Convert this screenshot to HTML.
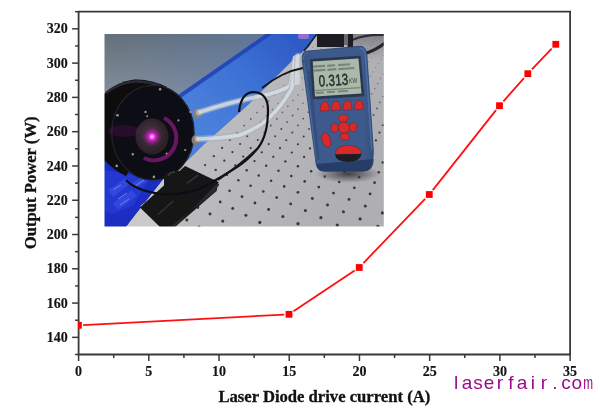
<!DOCTYPE html>
<html><head><meta charset="utf-8"><title>Output power vs laser diode drive current</title>
<style>
html,body{margin:0;padding:0;background:#fff;}
body{width:600px;height:414px;overflow:hidden;position:relative;}
svg{position:absolute;left:0;top:0;}
.tl{font-family:"Liberation Serif",serif;font-weight:bold;font-size:14px;fill:#141414;stroke:#141414;stroke-width:0.15px;}
.at{font-family:"Liberation Serif",serif;font-weight:bold;font-size:16px;fill:#111;stroke:#111;stroke-width:0.3px;}
.wm{font-family:"Liberation Sans",sans-serif;font-size:19px;fill:#9c0a8a;}
</style></head><body>
<svg width="600" height="414" viewBox="0 0 600 414">
<defs><clipPath id="pa"><rect x="78" y="11" width="492.5" height="344"/></clipPath>
<filter id="blur" x="0" y="0" width="1" height="1"><feGaussianBlur stdDeviation="0.55"/></filter><clipPath id="ph"><rect x="104.5" y="34" width="279.3" height="192.5"/></clipPath></defs>
<g clip-path="url(#ph)"><g filter="url(#blur)">
<defs>
<linearGradient id="gWall" gradientUnits="userSpaceOnUse" x1="0" y1="34" x2="0" y2="100">
<stop offset="0" stop-color="#64717c"/><stop offset="1" stop-color="#85919f"/></linearGradient>
<linearGradient id="gWallB" gradientUnits="userSpaceOnUse" x1="130" y1="0" x2="250" y2="0">
<stop offset="0" stop-color="#5a78b8" stop-opacity="0"/><stop offset="1" stop-color="#5a78b8" stop-opacity="0.4"/></linearGradient>
<linearGradient id="gTable" x1="0" y1="0" x2="1" y2="0.3">
<stop offset="0" stop-color="#cac9cc"/><stop offset="0.45" stop-color="#bebdc1"/><stop offset="1" stop-color="#afaeb3"/></linearGradient>
<linearGradient id="gFoam" gradientUnits="userSpaceOnUse" x1="290" y1="40" x2="205" y2="125">
<stop offset="0" stop-color="#2f5cc6"/><stop offset="0.45" stop-color="#3c70d4"/><stop offset="1" stop-color="#4a80dc"/></linearGradient>
<pattern id="holes" patternUnits="userSpaceOnUse" width="12" height="11" patternTransform="matrix(1.017 0.467 -0.845 0.955 237.45 172.25)">
<circle cx="6" cy="5.5" r="1.2" fill="#303030"/></pattern>
<radialGradient id="gGlow"><stop offset="0" stop-color="#fff4ff"/><stop offset="0.18" stop-color="#ff60ff"/><stop offset="0.4" stop-color="#d020c8" stop-opacity="0.85"/><stop offset="1" stop-color="#801070" stop-opacity="0"/></radialGradient>
<radialGradient id="gLens" cx="0.45" cy="0.45"><stop offset="0" stop-color="#4a3a44"/><stop offset="1" stop-color="#2a2228"/></radialGradient>
<linearGradient id="gMeter" x1="0" y1="0" x2="1" y2="0">
<stop offset="0" stop-color="#34507e"/><stop offset="0.15" stop-color="#3d5a8e"/><stop offset="0.85" stop-color="#3e5a8c"/><stop offset="1" stop-color="#33507e"/></linearGradient>
<radialGradient id="gShadow"><stop offset="0" stop-color="#2a2a30" stop-opacity="0.85"/><stop offset="0.6" stop-color="#404046" stop-opacity="0.4"/><stop offset="1" stop-color="#505056" stop-opacity="0"/></radialGradient>
<linearGradient id="gTR" x1="0" y1="0" x2="0" y2="1"><stop offset="0" stop-color="#5e5e66" stop-opacity="0.6"/><stop offset="1" stop-color="#5e5e66" stop-opacity="0"/></linearGradient>
</defs>
<!-- table -->
<rect x="104" y="34" width="281" height="193" fill="url(#gTable)"/>
<g fill="#383838"><circle cx="308.2" cy="35.7" r="0.47" opacity="0.35"/><circle cx="315.3" cy="36.8" r="0.48" opacity="0.35"/><circle cx="312.0" cy="39.8" r="0.49" opacity="0.35"/><circle cx="308.7" cy="42.8" r="0.50" opacity="0.35"/><circle cx="325.6" cy="35.0" r="0.47" opacity="0.35"/><circle cx="322.6" cy="37.9" r="0.49" opacity="0.35"/><circle cx="319.4" cy="41.0" r="0.50" opacity="0.35"/><circle cx="316.1" cy="44.1" r="0.51" opacity="0.35"/><circle cx="312.7" cy="47.4" r="0.53" opacity="0.35"/><circle cx="309.2" cy="50.7" r="0.54" opacity="0.35"/><circle cx="175.5" cy="179.1" r="1.22" opacity="1.00"/><circle cx="164.8" cy="189.3" r="1.28" opacity="1.00"/><circle cx="153.4" cy="200.2" r="1.34" opacity="1.00"/><circle cx="141.2" cy="211.9" r="1.42" opacity="1.00"/><circle cx="128.1" cy="224.5" r="1.50" opacity="1.00"/><circle cx="333.0" cy="36.1" r="0.48" opacity="0.35"/><circle cx="330.0" cy="39.1" r="0.50" opacity="0.35"/><circle cx="326.9" cy="42.2" r="0.51" opacity="0.35"/><circle cx="323.8" cy="45.4" r="0.52" opacity="0.35"/><circle cx="320.5" cy="48.7" r="0.54" opacity="0.35"/><circle cx="317.1" cy="52.2" r="0.55" opacity="0.35"/><circle cx="313.5" cy="55.7" r="0.57" opacity="0.35"/><circle cx="309.8" cy="59.4" r="0.59" opacity="0.35"/><circle cx="306.0" cy="63.3" r="0.61" opacity="0.35"/><circle cx="302.0" cy="67.3" r="0.62" opacity="0.35"/><circle cx="297.9" cy="71.5" r="0.64" opacity="0.35"/><circle cx="293.5" cy="75.9" r="0.66" opacity="0.35"/><circle cx="289.0" cy="80.4" r="0.69" opacity="0.37"/><circle cx="284.3" cy="85.2" r="0.71" opacity="0.41"/><circle cx="279.3" cy="90.2" r="0.74" opacity="0.46"/><circle cx="274.2" cy="95.4" r="0.76" opacity="0.50"/><circle cx="268.7" cy="100.9" r="0.79" opacity="0.55"/><circle cx="263.1" cy="106.6" r="0.82" opacity="0.60"/><circle cx="257.1" cy="112.6" r="0.85" opacity="0.66"/><circle cx="250.8" cy="119.0" r="0.88" opacity="0.72"/><circle cx="244.2" cy="125.6" r="0.92" opacity="0.78"/><circle cx="237.2" cy="132.7" r="0.96" opacity="0.85"/><circle cx="229.9" cy="140.1" r="1.00" opacity="0.92"/><circle cx="222.1" cy="147.9" r="1.04" opacity="1.00"/><circle cx="213.8" cy="156.2" r="1.09" opacity="1.00"/><circle cx="205.1" cy="165.1" r="1.14" opacity="1.00"/><circle cx="195.8" cy="174.4" r="1.20" opacity="1.00"/><circle cx="185.9" cy="184.4" r="1.26" opacity="1.00"/><circle cx="175.3" cy="195.1" r="1.32" opacity="1.00"/><circle cx="164.0" cy="206.5" r="1.39" opacity="1.00"/><circle cx="151.9" cy="218.7" r="1.47" opacity="1.00"/><circle cx="343.3" cy="34.4" r="0.48" opacity="0.35"/><circle cx="340.5" cy="37.3" r="0.49" opacity="0.35"/><circle cx="337.6" cy="40.3" r="0.51" opacity="0.35"/><circle cx="334.7" cy="43.5" r="0.52" opacity="0.35"/><circle cx="331.6" cy="46.7" r="0.53" opacity="0.35"/><circle cx="328.4" cy="50.1" r="0.55" opacity="0.35"/><circle cx="325.1" cy="53.6" r="0.56" opacity="0.35"/><circle cx="321.7" cy="57.3" r="0.58" opacity="0.35"/><circle cx="318.1" cy="61.1" r="0.60" opacity="0.35"/><circle cx="314.4" cy="65.0" r="0.62" opacity="0.35"/><circle cx="310.5" cy="69.1" r="0.64" opacity="0.35"/><circle cx="306.5" cy="73.4" r="0.66" opacity="0.35"/><circle cx="302.3" cy="77.9" r="0.68" opacity="0.36"/><circle cx="297.9" cy="82.6" r="0.70" opacity="0.40"/><circle cx="293.3" cy="87.5" r="0.73" opacity="0.44"/><circle cx="288.5" cy="92.6" r="0.75" opacity="0.49"/><circle cx="283.4" cy="97.9" r="0.78" opacity="0.54"/><circle cx="278.1" cy="103.6" r="0.81" opacity="0.59"/><circle cx="272.6" cy="109.5" r="0.84" opacity="0.64"/><circle cx="266.7" cy="115.7" r="0.87" opacity="0.70"/><circle cx="260.6" cy="122.2" r="0.91" opacity="0.76"/><circle cx="254.1" cy="129.1" r="0.95" opacity="0.83"/><circle cx="247.3" cy="136.3" r="0.99" opacity="0.90"/><circle cx="240.1" cy="144.0" r="1.03" opacity="0.97"/><circle cx="232.4" cy="152.1" r="1.08" opacity="1.00"/><circle cx="224.3" cy="160.7" r="1.13" opacity="1.00"/><circle cx="215.7" cy="169.9" r="1.18" opacity="1.00"/><circle cx="206.5" cy="179.6" r="1.24" opacity="1.00"/><circle cx="196.8" cy="190.0" r="1.30" opacity="1.00"/><circle cx="186.3" cy="201.1" r="1.37" opacity="1.00"/><circle cx="175.1" cy="213.0" r="1.45" opacity="1.00"/><circle cx="163.1" cy="225.8" r="1.53" opacity="1.00"/><circle cx="350.9" cy="35.5" r="0.49" opacity="0.35"/><circle cx="348.2" cy="38.5" r="0.50" opacity="0.35"/><circle cx="345.5" cy="41.6" r="0.51" opacity="0.35"/><circle cx="342.6" cy="44.8" r="0.53" opacity="0.35"/><circle cx="339.7" cy="48.1" r="0.54" opacity="0.35"/><circle cx="336.6" cy="51.5" r="0.56" opacity="0.35"/><circle cx="333.4" cy="55.1" r="0.58" opacity="0.35"/><circle cx="330.1" cy="58.9" r="0.59" opacity="0.35"/><circle cx="326.6" cy="62.7" r="0.61" opacity="0.35"/><circle cx="323.0" cy="66.8" r="0.63" opacity="0.35"/><circle cx="319.3" cy="71.0" r="0.65" opacity="0.35"/><circle cx="315.4" cy="75.4" r="0.67" opacity="0.35"/><circle cx="311.3" cy="80.0" r="0.70" opacity="0.39"/><circle cx="307.0" cy="84.8" r="0.72" opacity="0.43"/><circle cx="302.6" cy="89.8" r="0.75" opacity="0.47"/><circle cx="297.9" cy="95.1" r="0.77" opacity="0.52"/><circle cx="293.0" cy="100.6" r="0.80" opacity="0.57"/><circle cx="287.8" cy="106.3" r="0.83" opacity="0.63"/><circle cx="282.4" cy="112.4" r="0.86" opacity="0.68"/><circle cx="276.8" cy="118.8" r="0.90" opacity="0.74"/><circle cx="270.8" cy="125.5" r="0.94" opacity="0.81"/><circle cx="264.4" cy="132.6" r="0.97" opacity="0.88"/><circle cx="257.8" cy="140.1" r="1.02" opacity="0.95"/><circle cx="250.7" cy="148.1" r="1.06" opacity="1.00"/><circle cx="243.2" cy="156.5" r="1.11" opacity="1.00"/><circle cx="235.3" cy="165.4" r="1.16" opacity="1.00"/><circle cx="226.8" cy="174.9" r="1.22" opacity="1.00"/><circle cx="217.8" cy="185.1" r="1.28" opacity="1.00"/><circle cx="208.2" cy="195.9" r="1.35" opacity="1.00"/><circle cx="197.9" cy="207.5" r="1.42" opacity="1.00"/><circle cx="186.8" cy="219.9" r="1.50" opacity="1.00"/><circle cx="358.7" cy="36.6" r="0.50" opacity="0.35"/><circle cx="356.1" cy="39.7" r="0.51" opacity="0.35"/><circle cx="353.5" cy="42.8" r="0.52" opacity="0.35"/><circle cx="350.8" cy="46.1" r="0.54" opacity="0.35"/><circle cx="347.9" cy="49.5" r="0.56" opacity="0.35"/><circle cx="345.0" cy="53.0" r="0.57" opacity="0.35"/><circle cx="341.9" cy="56.7" r="0.59" opacity="0.35"/><circle cx="338.7" cy="60.5" r="0.61" opacity="0.35"/><circle cx="335.4" cy="64.5" r="0.63" opacity="0.35"/><circle cx="331.9" cy="68.6" r="0.65" opacity="0.35"/><circle cx="328.3" cy="72.9" r="0.67" opacity="0.35"/><circle cx="324.5" cy="77.4" r="0.69" opacity="0.38"/><circle cx="320.6" cy="82.1" r="0.71" opacity="0.42"/><circle cx="316.4" cy="87.0" r="0.74" opacity="0.46"/><circle cx="312.1" cy="92.2" r="0.76" opacity="0.51"/><circle cx="307.6" cy="97.6" r="0.79" opacity="0.56"/><circle cx="302.9" cy="103.3" r="0.82" opacity="0.61"/><circle cx="297.9" cy="109.2" r="0.85" opacity="0.66"/><circle cx="292.6" cy="115.5" r="0.89" opacity="0.72"/><circle cx="287.1" cy="122.1" r="0.92" opacity="0.79"/><circle cx="281.3" cy="129.0" r="0.96" opacity="0.85"/><circle cx="275.2" cy="136.3" r="1.00" opacity="0.93"/><circle cx="268.7" cy="144.1" r="1.05" opacity="1.00"/><circle cx="261.8" cy="152.3" r="1.10" opacity="1.00"/><circle cx="254.5" cy="161.1" r="1.15" opacity="1.00"/><circle cx="246.7" cy="170.3" r="1.20" opacity="1.00"/><circle cx="238.4" cy="180.2" r="1.26" opacity="1.00"/><circle cx="229.6" cy="190.8" r="1.33" opacity="1.00"/><circle cx="220.2" cy="202.0" r="1.40" opacity="1.00"/><circle cx="210.0" cy="214.1" r="1.48" opacity="1.00"/><circle cx="199.1" cy="227.1" r="1.56" opacity="1.00"/><circle cx="369.0" cy="34.8" r="0.49" opacity="0.35"/><circle cx="366.7" cy="37.8" r="0.51" opacity="0.35"/><circle cx="364.3" cy="40.9" r="0.52" opacity="0.35"/><circle cx="361.7" cy="44.1" r="0.53" opacity="0.35"/><circle cx="359.1" cy="47.4" r="0.55" opacity="0.35"/><circle cx="356.4" cy="50.9" r="0.57" opacity="0.35"/><circle cx="353.6" cy="54.5" r="0.58" opacity="0.35"/><circle cx="350.6" cy="58.3" r="0.60" opacity="0.35"/><circle cx="347.6" cy="62.2" r="0.62" opacity="0.35"/><circle cx="344.4" cy="66.2" r="0.64" opacity="0.35"/><circle cx="341.0" cy="70.5" r="0.66" opacity="0.35"/><circle cx="337.6" cy="74.9" r="0.68" opacity="0.36"/><circle cx="333.9" cy="79.5" r="0.71" opacity="0.40"/><circle cx="330.2" cy="84.3" r="0.73" opacity="0.45"/><circle cx="326.2" cy="89.4" r="0.76" opacity="0.49"/><circle cx="322.0" cy="94.7" r="0.78" opacity="0.54"/><circle cx="317.7" cy="100.2" r="0.81" opacity="0.59"/><circle cx="313.1" cy="106.1" r="0.84" opacity="0.65"/><circle cx="308.3" cy="112.2" r="0.88" opacity="0.71"/><circle cx="303.2" cy="118.6" r="0.91" opacity="0.77"/><circle cx="297.9" cy="125.4" r="0.95" opacity="0.83"/><circle cx="292.3" cy="132.6" r="0.99" opacity="0.90"/><circle cx="286.3" cy="140.2" r="1.03" opacity="0.98"/><circle cx="280.0" cy="148.2" r="1.08" opacity="1.00"/><circle cx="273.3" cy="156.8" r="1.13" opacity="1.00"/><circle cx="266.2" cy="165.8" r="1.19" opacity="1.00"/><circle cx="258.7" cy="175.4" r="1.24" opacity="1.00"/><circle cx="250.6" cy="185.7" r="1.31" opacity="1.00"/><circle cx="242.0" cy="196.7" r="1.38" opacity="1.00"/><circle cx="232.7" cy="208.5" r="1.45" opacity="1.00"/><circle cx="222.8" cy="221.1" r="1.54" opacity="1.00"/><circle cx="377.1" cy="35.9" r="0.50" opacity="0.35"/><circle cx="374.9" cy="39.0" r="0.52" opacity="0.35"/><circle cx="372.6" cy="42.2" r="0.53" opacity="0.35"/><circle cx="370.2" cy="45.4" r="0.55" opacity="0.35"/><circle cx="367.7" cy="48.8" r="0.56" opacity="0.35"/><circle cx="365.1" cy="52.4" r="0.58" opacity="0.35"/><circle cx="362.4" cy="56.1" r="0.60" opacity="0.35"/><circle cx="359.6" cy="59.9" r="0.61" opacity="0.35"/><circle cx="356.7" cy="63.9" r="0.63" opacity="0.35"/><circle cx="353.6" cy="68.1" r="0.65" opacity="0.35"/><circle cx="350.5" cy="72.4" r="0.68" opacity="0.35"/><circle cx="347.1" cy="76.9" r="0.70" opacity="0.39"/><circle cx="343.7" cy="81.7" r="0.72" opacity="0.43"/><circle cx="340.0" cy="86.6" r="0.75" opacity="0.48"/><circle cx="336.3" cy="91.8" r="0.77" opacity="0.53"/><circle cx="332.3" cy="97.3" r="0.80" opacity="0.58"/><circle cx="328.1" cy="103.0" r="0.83" opacity="0.63"/><circle cx="323.7" cy="109.0" r="0.87" opacity="0.69"/><circle cx="319.1" cy="115.3" r="0.90" opacity="0.75"/><circle cx="314.2" cy="121.9" r="0.94" opacity="0.81"/><circle cx="309.1" cy="129.0" r="0.98" opacity="0.88"/><circle cx="303.7" cy="136.4" r="1.02" opacity="0.96"/><circle cx="297.9" cy="144.2" r="1.07" opacity="1.00"/><circle cx="291.8" cy="152.5" r="1.12" opacity="1.00"/><circle cx="285.4" cy="161.4" r="1.17" opacity="1.00"/><circle cx="278.5" cy="170.8" r="1.23" opacity="1.00"/><circle cx="271.1" cy="180.8" r="1.29" opacity="1.00"/><circle cx="263.3" cy="191.5" r="1.36" opacity="1.00"/><circle cx="254.9" cy="203.0" r="1.43" opacity="1.00"/><circle cx="245.9" cy="215.3" r="1.51" opacity="1.00"/><circle cx="236.2" cy="228.5" r="1.60" opacity="1.00"/><circle cx="385.4" cy="37.1" r="0.51" opacity="0.35"/><circle cx="383.3" cy="40.2" r="0.53" opacity="0.35"/><circle cx="381.1" cy="43.5" r="0.54" opacity="0.35"/><circle cx="378.9" cy="46.8" r="0.56" opacity="0.35"/><circle cx="376.5" cy="50.3" r="0.57" opacity="0.35"/><circle cx="374.0" cy="53.9" r="0.59" opacity="0.35"/><circle cx="371.5" cy="57.7" r="0.61" opacity="0.35"/><circle cx="368.8" cy="61.6" r="0.63" opacity="0.35"/><circle cx="366.1" cy="65.7" r="0.65" opacity="0.35"/><circle cx="363.2" cy="69.9" r="0.67" opacity="0.35"/><circle cx="360.2" cy="74.4" r="0.69" opacity="0.38"/><circle cx="357.0" cy="79.0" r="0.71" opacity="0.42"/><circle cx="353.7" cy="83.9" r="0.74" opacity="0.46"/><circle cx="350.3" cy="89.0" r="0.77" opacity="0.51"/><circle cx="346.7" cy="94.3" r="0.79" opacity="0.56"/><circle cx="342.9" cy="99.9" r="0.82" opacity="0.61"/><circle cx="338.9" cy="105.8" r="0.86" opacity="0.67"/><circle cx="334.7" cy="112.0" r="0.89" opacity="0.73"/><circle cx="330.3" cy="118.5" r="0.93" opacity="0.79"/><circle cx="325.6" cy="125.4" r="0.97" opacity="0.86"/><circle cx="320.7" cy="132.6" r="1.01" opacity="0.93"/><circle cx="315.5" cy="140.3" r="1.05" opacity="1.00"/><circle cx="310.0" cy="148.4" r="1.10" opacity="1.00"/><circle cx="304.1" cy="157.0" r="1.15" opacity="1.00"/><circle cx="297.9" cy="166.2" r="1.21" opacity="1.00"/><circle cx="291.3" cy="176.0" r="1.27" opacity="1.00"/><circle cx="284.2" cy="186.4" r="1.34" opacity="1.00"/><circle cx="276.7" cy="197.6" r="1.41" opacity="1.00"/><circle cx="268.6" cy="209.5" r="1.49" opacity="1.00"/><circle cx="259.8" cy="222.4" r="1.57" opacity="1.00"/><circle cx="385.5" cy="51.8" r="0.58" opacity="0.35"/><circle cx="383.2" cy="55.5" r="0.60" opacity="0.35"/><circle cx="380.8" cy="59.3" r="0.62" opacity="0.35"/><circle cx="378.3" cy="63.3" r="0.64" opacity="0.35"/><circle cx="375.7" cy="67.5" r="0.66" opacity="0.35"/><circle cx="373.0" cy="71.9" r="0.68" opacity="0.37"/><circle cx="370.2" cy="76.4" r="0.71" opacity="0.41"/><circle cx="367.2" cy="81.2" r="0.73" opacity="0.45"/><circle cx="364.1" cy="86.2" r="0.76" opacity="0.50"/><circle cx="360.8" cy="91.4" r="0.79" opacity="0.55"/><circle cx="357.4" cy="96.9" r="0.82" opacity="0.60"/><circle cx="353.8" cy="102.7" r="0.85" opacity="0.65"/><circle cx="350.0" cy="108.7" r="0.88" opacity="0.71"/><circle cx="346.1" cy="115.1" r="0.92" opacity="0.77"/><circle cx="341.9" cy="121.8" r="0.95" opacity="0.84"/><circle cx="337.5" cy="128.9" r="0.99" opacity="0.91"/><circle cx="332.8" cy="136.4" r="1.04" opacity="0.99"/><circle cx="327.8" cy="144.3" r="1.09" opacity="1.00"/><circle cx="322.6" cy="152.8" r="1.14" opacity="1.00"/><circle cx="317.0" cy="161.7" r="1.19" opacity="1.00"/><circle cx="311.1" cy="171.2" r="1.25" opacity="1.00"/><circle cx="304.7" cy="181.4" r="1.31" opacity="1.00"/><circle cx="297.9" cy="192.3" r="1.38" opacity="1.00"/><circle cx="290.7" cy="203.9" r="1.46" opacity="1.00"/><circle cx="282.9" cy="216.5" r="1.55" opacity="1.00"/><circle cx="385.7" cy="69.4" r="0.68" opacity="0.36"/><circle cx="383.1" cy="73.9" r="0.70" opacity="0.40"/><circle cx="380.5" cy="78.5" r="0.72" opacity="0.44"/><circle cx="377.7" cy="83.4" r="0.75" opacity="0.48"/><circle cx="374.8" cy="88.6" r="0.78" opacity="0.53"/><circle cx="371.7" cy="93.9" r="0.81" opacity="0.58"/><circle cx="368.5" cy="99.6" r="0.84" opacity="0.63"/><circle cx="365.2" cy="105.5" r="0.87" opacity="0.69"/><circle cx="361.6" cy="111.7" r="0.90" opacity="0.75"/><circle cx="357.9" cy="118.3" r="0.94" opacity="0.82"/><circle cx="353.9" cy="125.3" r="0.98" opacity="0.89"/><circle cx="349.8" cy="132.6" r="1.02" opacity="0.96"/><circle cx="345.4" cy="140.3" r="1.07" opacity="1.00"/><circle cx="340.7" cy="148.6" r="1.12" opacity="1.00"/><circle cx="335.7" cy="157.3" r="1.17" opacity="1.00"/><circle cx="330.4" cy="166.6" r="1.23" opacity="1.00"/><circle cx="324.8" cy="176.5" r="1.29" opacity="1.00"/><circle cx="318.8" cy="187.1" r="1.36" opacity="1.00"/><circle cx="312.3" cy="198.5" r="1.44" opacity="1.00"/><circle cx="305.4" cy="210.6" r="1.52" opacity="1.00"/><circle cx="298.0" cy="223.7" r="1.61" opacity="1.00"/><circle cx="385.9" cy="91.0" r="0.80" opacity="0.57"/><circle cx="383.0" cy="96.5" r="0.83" opacity="0.62"/><circle cx="380.0" cy="102.3" r="0.86" opacity="0.67"/><circle cx="376.9" cy="108.5" r="0.89" opacity="0.73"/><circle cx="373.6" cy="114.9" r="0.93" opacity="0.80"/><circle cx="370.1" cy="121.7" r="0.97" opacity="0.87"/><circle cx="366.5" cy="128.8" r="1.01" opacity="0.94"/><circle cx="362.6" cy="136.4" r="1.06" opacity="1.00"/><circle cx="358.5" cy="144.5" r="1.10" opacity="1.00"/><circle cx="354.1" cy="153.0" r="1.16" opacity="1.00"/><circle cx="349.4" cy="162.1" r="1.21" opacity="1.00"/><circle cx="344.5" cy="171.7" r="1.27" opacity="1.00"/><circle cx="339.2" cy="182.0" r="1.34" opacity="1.00"/><circle cx="333.5" cy="193.1" r="1.41" opacity="1.00"/><circle cx="327.5" cy="204.9" r="1.49" opacity="1.00"/><circle cx="320.9" cy="217.7" r="1.58" opacity="1.00"/><circle cx="382.9" cy="125.2" r="1.00" opacity="0.92"/><circle cx="379.5" cy="132.6" r="1.04" opacity="0.99"/><circle cx="375.9" cy="140.4" r="1.09" opacity="1.00"/><circle cx="372.1" cy="148.7" r="1.14" opacity="1.00"/><circle cx="368.1" cy="157.6" r="1.20" opacity="1.00"/><circle cx="363.8" cy="167.0" r="1.26" opacity="1.00"/><circle cx="359.2" cy="177.1" r="1.32" opacity="1.00"/><circle cx="354.3" cy="187.8" r="1.39" opacity="1.00"/><circle cx="349.0" cy="199.4" r="1.47" opacity="1.00"/><circle cx="343.4" cy="211.8" r="1.55" opacity="1.00"/><circle cx="337.3" cy="225.1" r="1.65" opacity="1.00"/><circle cx="382.7" cy="162.4" r="1.24" opacity="1.00"/><circle cx="378.8" cy="172.2" r="1.30" opacity="1.00"/><circle cx="374.6" cy="182.7" r="1.37" opacity="1.00"/><circle cx="370.1" cy="193.9" r="1.44" opacity="1.00"/><circle cx="365.3" cy="206.0" r="1.53" opacity="1.00"/><circle cx="360.1" cy="218.9" r="1.62" opacity="1.00"/><circle cx="382.4" cy="212.9" r="1.59" opacity="1.00"/><circle cx="377.8" cy="226.5" r="1.69" opacity="1.00"/></g>
<!-- wall -->
<polygon points="104,34 265.5,34 104,146.6" fill="url(#gWall)"/>
<polygon points="104,34 265.5,34 104,146.6" fill="url(#gWallB)"/>
<!-- foam -->
<polygon points="104,146.6 265.5,34 316,34 309,47 296,57 247,106 204,144.5 194.4,154 116,227 104,227" fill="url(#gFoam)"/>
<polygon points="104,146.6 265.5,34 272.5,34 104,151.5" fill="#2142b4" opacity="0.85"/>
<path d="M317,34 Q311,42 304,51" fill="none" stroke="#202026" stroke-width="1.6"/>
<!-- purple piece -->
<rect x="298" y="33" width="11" height="6" rx="2" fill="#9070d0"/>
<polygon points="104,150 172,150 165,177 126,227 104,227" fill="#1c2ec2"/>
<polygon points="104,170 150,178 133,206 112,214 104,210" fill="#2a40de" opacity="0.55"/>
<g fill="#3448e0" opacity="0.9"><polygon points="108,190 126,178 131,183 113,197"/><polygon points="113,203 132,190 137,196 118,210"/><polygon points="131,184 150,172 154,176 136,189"/></g>
<g stroke="#aab4f0" stroke-width="0.8" opacity="0.7"><path d="M118,199 L127,193"/><path d="M120,205 L129,199"/><path d="M135,186 L144,180"/><path d="M113,190 L121,185"/></g>
<polygon points="126,227 165,177 171,176 167,184.5 140.3,206 160,227" fill="#cacaca"/>
<!-- base -->
<polygon points="140,207.5 185,166 218.5,182 216.5,191 175,227 160,227" fill="#141416"/>
<polygon points="216.5,191 218.5,182 175,227 170,227" fill="#2a2a2e"/>
<path d="M186.7,183.3 L198.3,175" stroke="#333338" stroke-width="1.6"/><path d="M157.5,215 L173.3,200.8" stroke="#303034" stroke-width="1.6"/>
<!-- laser head -->
<path d="M104,94 Q116,82 134,79.5 Q150,78.5 167,87 L152.9,132.7 L126,176 Q115,171 104,160 Z" fill="#0c0c10"/>
<path d="M106,93 Q118,83 134,81.5 Q148,81 160,86" fill="none" stroke="#2c2c34" stroke-width="2.5"/>
<ellipse cx="152.9" cy="132.7" rx="41.2" ry="47.3" fill="#0f0e13" stroke="#22222a" stroke-width="1.3"/>
<ellipse cx="152" cy="136.5" rx="16.5" ry="18" fill="url(#gLens)"/>
<path d="M164,118 A22,22 0 0 1 144,158" fill="none" stroke="#a21a98" stroke-width="4" opacity="0.6"/>
<ellipse cx="124" cy="131" rx="16" ry="6" fill="#801a7a" opacity="0.22"/>
<circle cx="152" cy="136.7" r="10" fill="url(#gGlow)"/>
<g fill="#9a948a">
<circle cx="117.5" cy="115.3" r="1.4"/><circle cx="145.5" cy="111.9" r="1.2"/><circle cx="147.2" cy="116.2" r="1"/>
<circle cx="178.4" cy="120.4" r="1.1"/><circle cx="190.3" cy="111.9" r="1.1"/><circle cx="132.8" cy="154.2" r="1.2"/>
<circle cx="185.2" cy="150" r="1.1"/><circle cx="166.6" cy="153.4" r="1"/><circle cx="116.7" cy="165.9" r="1.3"/>
<circle cx="160.1" cy="89.3" r="1.3"/><circle cx="153.9" cy="176.9" r="1.3"/></g>
<!-- post -->
<rect x="164" y="171" width="20" height="26" rx="6" fill="#141417"/><path d="M168,176 Q170,172 175,172" stroke="#3a3a40" stroke-width="1.5" fill="none"/>
<!-- fittings -->
<ellipse cx="197.5" cy="113.5" rx="4.5" ry="5" fill="#8a8078"/><ellipse cx="198.5" cy="112.5" rx="2.5" ry="3" fill="#b8b0a8"/>
<ellipse cx="196" cy="140" rx="4.5" ry="5" fill="#857a72"/><ellipse cx="197" cy="139" rx="2.5" ry="3" fill="#a89e96"/>
<!-- tubes -->
<g fill="none" stroke-linecap="round">
<path d="M200,112 Q230,102 261,96 Q280,92 290,86 L295,60" stroke="#a9b2bc" stroke-width="6.5" opacity="0.6"/>
<path d="M200,112 Q230,102 261,96 Q280,92 290,86 L295,60" stroke="#dfe5ea" stroke-width="3.5" opacity="0.75"/>
<path d="M198,139 Q225,138 240,135 Q258,128 268,119 Q282,106 292,88 L298,56" stroke="#a9b2bc" stroke-width="6.5" opacity="0.6"/>
<path d="M198,139 Q225,138 240,135 Q258,128 268,119 Q282,106 292,88 L298,56" stroke="#dfe5ea" stroke-width="3.5" opacity="0.75"/>
</g>

<path d="M291,86 L293,56 L299,54 L300,84 Z" fill="#d4d9de" opacity="0.85"/>
<path d="M294,84 L295,56" stroke="#a8aeb4" stroke-width="0.8"/>
<!-- cables -->
<path d="M239,112 Q241,92 254,92 Q268,93 268,110 Q268,135 258,148 Q248,160 237,167 Q222,177 205,186 Q185,196 160,194 Q135,190 126,180" fill="none" stroke="#101014" stroke-width="2.2"/>
<path d="M262,88 Q272,80 282,75 Q292,70 303,68" fill="none" stroke="#151518" stroke-width="1.8"/>
<path d="M218,180 Q240,165 258,148" fill="none" stroke="#18181b" stroke-width="1.8"/>
<rect x="350" y="34" width="35" height="26" fill="url(#gTR)"/>
<path d="M364,54 Q376,50 385,43" fill="none" stroke="#26262c" stroke-width="3"/>
<path d="M352,40 Q366,34 385,35" fill="none" stroke="#2e2e34" stroke-width="2.2"/>
<!-- meter connector -->
<rect x="317" y="33" width="27" height="14" fill="#1c1c22"/><rect x="347.5" y="33" width="5.5" height="14" fill="#1c1c22"/><rect x="344" y="33" width="3.5" height="12" fill="#6a6a70"/>
<!-- meter body -->
<ellipse cx="348" cy="174" rx="33" ry="9" fill="url(#gShadow)"/>
<path d="M306,51.2 L359.5,46.3 Q366,46 366.8,54 L373.3,150 Q373.8,171 363,171 L324,171 Q317,171 316,163 L302.2,60 Q301.8,52 306,51.2 Z" fill="url(#gMeter)" stroke="#24406e" stroke-width="0.8"/>
<path d="M360,48 Q365,48.5 365.5,56 L371.8,150" fill="none" stroke="#5a80bc" stroke-width="1.5" opacity="0.6"/>
<path d="M316.3,164 L373.6,159 Q373.8,171.5 363,171.5 L324,171.5 Q317.3,171.5 316.3,164 Z" fill="#243a62" opacity="0.85"/>
<path d="M303.5,60 Q303,53 308,52.5" fill="none" stroke="#5a7cb4" stroke-width="1.4" opacity="0.5"/>
<path d="M303.8,62 L316.6,160" stroke="#5578b0" stroke-width="1.4" opacity="0.45"/>
<path d="M309,70 L318,160" stroke="#243a5e" stroke-width="3" opacity="0.35"/>
<!-- screen -->
<polygon points="310.3,59.5 360.2,56.2 363.8,95.8 313.3,98.8" fill="#2a3850" stroke="#2a3850" stroke-width="1" stroke-linejoin="round"/>
<polygon points="312.7,61.5 358.5,58.5 361.5,93.5 315,96.5" fill="#aab9a9"/>
<g transform="rotate(-3.8 338 78)">
<g fill="#4a5048" opacity="0.5">
<rect x="314" y="64" width="12" height="2.2"/><rect x="328" y="64" width="8" height="2.2"/><rect x="339" y="64" width="12" height="2.2"/>
<rect x="314" y="68" width="12" height="2.2"/><rect x="328" y="68" width="9" height="2.2"/><rect x="339" y="68" width="16" height="2.2"/>
<rect x="314" y="88.5" width="46" height="1.2"/><rect x="315" y="90.5" width="8" height="2"/><rect x="326" y="90.5" width="8" height="2"/><rect x="337" y="90.5" width="10" height="2"/></g>
<text x="318.5" y="85.3" font-family="Liberation Sans, sans-serif" font-size="15.8" fill="#2a302a" stroke="#2a302a" stroke-width="0.5" textLength="29.5" lengthAdjust="spacingAndGlyphs">0.313</text>
<text x="348.6" y="84" font-family="Liberation Sans, sans-serif" font-size="7" fill="#3a3e38" textLength="8.4" lengthAdjust="spacingAndGlyphs">KW</text>
</g>
<!-- buttons -->
<g fill="#d82a2a" stroke="#7a1a22" stroke-width="0.5">
<path d="M320.2,111 Q320.2,101.8 324.7,101.6 Q329.2,101.6 329.2,110.5 Z"/>
<path d="M331.5,110.6 Q331.5,101.3 336,101.1 Q340.5,101.1 340.5,110 Z"/>
<path d="M342.9,110.2 Q342.9,100.8 347.4,100.6 Q351.9,100.6 351.9,109.6 Z"/>
<path d="M354.4,109.8 Q354.4,100.4 358.9,100.2 Q363.4,100.2 363.4,109.2 Z"/>
<ellipse cx="343.3" cy="118.2" rx="5" ry="3.7"/>
<ellipse cx="344.8" cy="136.8" rx="4.6" ry="3.4"/>
<ellipse cx="334.6" cy="128" rx="3.8" ry="4.6"/>
<ellipse cx="353.2" cy="127.2" rx="3.8" ry="4.6"/>
<circle cx="343.9" cy="127.6" r="5.6"/>
<ellipse cx="326.3" cy="140" rx="4.2" ry="7.4" transform="rotate(-18 326.3 140)"/>
<path d="M335,154.5 Q336,145.4 348,145.4 Q360,145.4 361.5,154 Z"/>
</g>
<path d="M335,154.5 L361.5,154 Q360,161.8 348,161.8 Q336,161.8 335,154.5 Z" fill="#1a1a20"/>

</g></g>
<path d="M78.60 11.70H570.10V354.50H78.60Z" fill="none" stroke="#383838" stroke-width="1.8"/>
<path d="M75.10 354.50H78.60" stroke="#383838" stroke-width="1.5"/>
<path d="M72.10 337.36H78.60" stroke="#383838" stroke-width="1.5"/>
<text transform="translate(67.70 342.01)" text-anchor="end" class="tl">140</text>
<path d="M75.10 320.22H78.60" stroke="#383838" stroke-width="1.5"/>
<path d="M72.10 303.08H78.60" stroke="#383838" stroke-width="1.5"/>
<text transform="translate(67.70 307.73)" text-anchor="end" class="tl">160</text>
<path d="M75.10 285.94H78.60" stroke="#383838" stroke-width="1.5"/>
<path d="M72.10 268.80H78.60" stroke="#383838" stroke-width="1.5"/>
<text transform="translate(67.70 273.45)" text-anchor="end" class="tl">180</text>
<path d="M75.10 251.66H78.60" stroke="#383838" stroke-width="1.5"/>
<path d="M72.10 234.52H78.60" stroke="#383838" stroke-width="1.5"/>
<text transform="translate(67.70 239.17)" text-anchor="end" class="tl">200</text>
<path d="M75.10 217.38H78.60" stroke="#383838" stroke-width="1.5"/>
<path d="M72.10 200.24H78.60" stroke="#383838" stroke-width="1.5"/>
<text transform="translate(67.70 204.89)" text-anchor="end" class="tl">220</text>
<path d="M75.10 183.10H78.60" stroke="#383838" stroke-width="1.5"/>
<path d="M72.10 165.96H78.60" stroke="#383838" stroke-width="1.5"/>
<text transform="translate(67.70 170.61)" text-anchor="end" class="tl">240</text>
<path d="M75.10 148.82H78.60" stroke="#383838" stroke-width="1.5"/>
<path d="M72.10 131.68H78.60" stroke="#383838" stroke-width="1.5"/>
<text transform="translate(67.70 136.33)" text-anchor="end" class="tl">260</text>
<path d="M75.10 114.54H78.60" stroke="#383838" stroke-width="1.5"/>
<path d="M72.10 97.40H78.60" stroke="#383838" stroke-width="1.5"/>
<text transform="translate(67.70 102.05)" text-anchor="end" class="tl">280</text>
<path d="M75.10 80.26H78.60" stroke="#383838" stroke-width="1.5"/>
<path d="M72.10 63.12H78.60" stroke="#383838" stroke-width="1.5"/>
<text transform="translate(67.70 67.77)" text-anchor="end" class="tl">300</text>
<path d="M75.10 45.98H78.60" stroke="#383838" stroke-width="1.5"/>
<path d="M72.10 28.84H78.60" stroke="#383838" stroke-width="1.5"/>
<text transform="translate(67.70 33.49)" text-anchor="end" class="tl">320</text>
<path d="M75.10 11.70H78.60" stroke="#383838" stroke-width="1.5"/>
<path d="M78.60 354.50V361.00" stroke="#383838" stroke-width="1.5"/>
<text transform="translate(78.60 375.5)" text-anchor="middle" class="tl">0</text>
<path d="M113.71 354.50V358.00" stroke="#383838" stroke-width="1.5"/>
<path d="M148.81 354.50V361.00" stroke="#383838" stroke-width="1.5"/>
<text transform="translate(148.81 375.5)" text-anchor="middle" class="tl">5</text>
<path d="M183.92 354.50V358.00" stroke="#383838" stroke-width="1.5"/>
<path d="M219.03 354.50V361.00" stroke="#383838" stroke-width="1.5"/>
<text transform="translate(219.03 375.5)" text-anchor="middle" class="tl">10</text>
<path d="M254.14 354.50V358.00" stroke="#383838" stroke-width="1.5"/>
<path d="M289.24 354.50V361.00" stroke="#383838" stroke-width="1.5"/>
<text transform="translate(289.24 375.5)" text-anchor="middle" class="tl">15</text>
<path d="M324.35 354.50V358.00" stroke="#383838" stroke-width="1.5"/>
<path d="M359.46 354.50V361.00" stroke="#383838" stroke-width="1.5"/>
<text transform="translate(359.46 375.5)" text-anchor="middle" class="tl">20</text>
<path d="M394.56 354.50V358.00" stroke="#383838" stroke-width="1.5"/>
<path d="M429.67 354.50V361.00" stroke="#383838" stroke-width="1.5"/>
<text transform="translate(429.67 375.5)" text-anchor="middle" class="tl">25</text>
<path d="M464.78 354.50V358.00" stroke="#383838" stroke-width="1.5"/>
<path d="M499.89 354.50V361.00" stroke="#383838" stroke-width="1.5"/>
<text transform="translate(499.89 375.5)" text-anchor="middle" class="tl">30</text>
<path d="M534.99 354.50V358.00" stroke="#383838" stroke-width="1.5"/>
<path d="M570.10 354.50V361.00" stroke="#383838" stroke-width="1.5"/>
<text transform="translate(570.10 375.5)" text-anchor="middle" class="tl">35</text>
<g clip-path="url(#pa)">
<path d="M83.10 325.05L284.30 314.55M293.48 311.31L354.72 270.49M363.37 263.16L425.13 198.84M432.79 190.08L496.01 110.12M503.37 101.33L523.93 78.07M531.93 69.36L551.67 48.64" fill="none" stroke="#ff1010" stroke-width="1.8"/>
<rect x="75.00" y="321.90" width="6.8" height="6.8" fill="#ff0000"/><rect x="285.60" y="310.90" width="6.8" height="6.8" fill="#ff0000"/><rect x="355.80" y="264.10" width="6.8" height="6.8" fill="#ff0000"/><rect x="425.90" y="191.10" width="6.8" height="6.8" fill="#ff0000"/><rect x="496.10" y="102.30" width="6.8" height="6.8" fill="#ff0000"/><rect x="524.40" y="70.30" width="6.8" height="6.8" fill="#ff0000"/><rect x="552.40" y="40.90" width="6.8" height="6.8" fill="#ff0000"/>
</g>
<text class="at" transform="translate(324.3 401.6) scale(1.04 1)" text-anchor="middle">Laser Diode drive current (A)</text>
<text class="at" transform="translate(35.6 182.8) rotate(-90) scale(1.04 1)" text-anchor="middle">Output Power (W)</text>
<text class="wm" y="388.7"><tspan x="456.10 467.08 478.06 489.04 500.02 511.00 521.98 532.96 543.94 554.92 565.90 576.88" text-anchor="middle">laserfair.co</tspan><tspan x="583.2" textLength="9.8" lengthAdjust="spacingAndGlyphs">m</tspan></text>
</svg>
</body></html>
